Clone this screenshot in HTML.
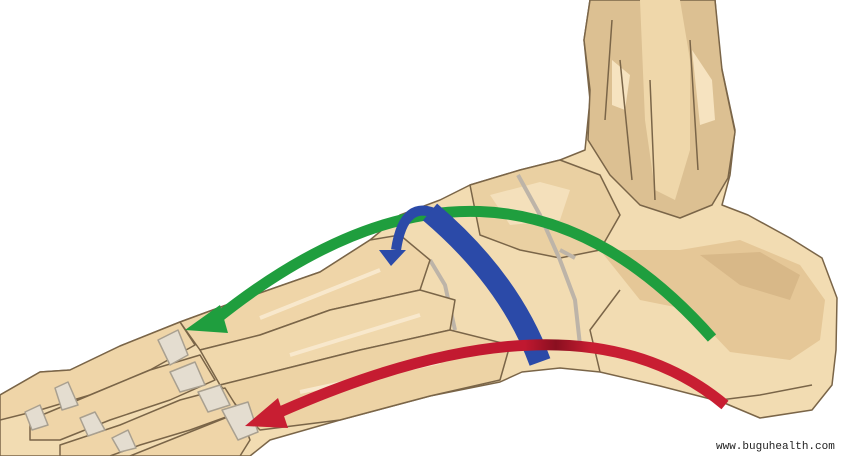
<!DOCTYPE html>
<html><head><meta charset="utf-8"><style>
html,body{margin:0;padding:0;background:#fff;width:851px;height:456px;overflow:hidden}
svg{display:block}
.w{position:absolute;left:716px;top:441px;font:11px "Liberation Mono",monospace;color:#222}
</style></head><body>
<svg width="851" height="456" viewBox="0 0 851 456" xmlns="http://www.w3.org/2000/svg">
<defs>
<linearGradient id="rg" x1="0" x2="1" y1="0" y2="0">
<stop offset="0" stop-color="#c81e32"/><stop offset="0.55" stop-color="#c01830"/><stop offset="0.62" stop-color="#8a0f20"/><stop offset="0.7" stop-color="#c81e32"/><stop offset="1" stop-color="#c81e32"/>
</linearGradient>
</defs>
<g stroke="#7a6548" stroke-width="1.5" stroke-linejoin="round">
<path fill="#f2dcb2" d="M590,0 L715,0 L720,60 L735,130 L730,175 L722,205 L748,215 L790,238 L822,258 L837,298 L836,350 L832,385 L812,410 L760,418 L722,402 L660,386 L600,372 L560,368 L522,372 L500,382 L430,396 L340,420 L270,440 L250,456 L0,456 L0,395 L40,372 L70,370 L120,346 L180,322 L240,300 L320,272 L370,240 L400,215 L440,200 L470,185 L520,170 L560,160 L585,150 L590,100 L584,40 Z"/>
<path fill="#dcc092" d="M590,0 L715,0 L722,70 L735,132 L728,178 L712,205 L680,218 L640,205 L610,175 L588,140 L590,90 L584,40 Z"/>
<path fill="#efd7aa" stroke="none" d="M640,0 L680,0 L690,60 L690,150 L675,200 L655,190 L645,120 Z"/>
<path fill="#f6e3c0" stroke="none" d="M612,60 L630,75 L625,110 L612,105 Z M692,50 L712,80 L715,120 L700,125 Z"/>
<path fill="none" d="M612,20 L605,120 M620,60 L632,180 M650,80 L655,200 M690,40 L698,170"/>
<path fill="#ead0a2" d="M470,185 L520,170 L560,160 L600,175 L620,215 L600,250 L560,258 L520,250 L480,235 Z"/>
<path fill="#f4e0bb" stroke="none" d="M490,195 L540,182 L570,190 L560,220 L510,225 Z"/>
<path fill="#e5c797" stroke="none" d="M600,250 L680,250 L740,240 L800,265 L825,300 L820,340 L790,360 L730,352 L690,310 L640,300 Z"/>
<path fill="#d8b888" stroke="none" d="M700,255 L760,252 L800,275 L790,300 L740,285 Z"/>
<path fill="none" d="M720,400 L760,395 L812,385 M600,372 L590,330 L620,290"/>
<path fill="none" stroke="#bdb4a8" stroke-width="4" d="M518,175 L540,215 L560,260 L575,300 L580,345 M560,250 L575,258 M430,260 L445,285 L455,330 M460,230 L480,250"/>
<path fill="#efd5a8" d="M180,322 L240,300 L320,272 L370,240 L400,235 L430,260 L420,290 L330,310 L260,335 L200,350 Z"/>
<path fill="#f0d8ac" d="M200,350 L260,335 L330,310 L420,290 L455,300 L450,330 L360,350 L280,370 L220,385 Z"/>
<path fill="#edd3a5" d="M220,385 L280,370 L360,350 L450,330 L510,345 L500,380 L430,396 L340,420 L260,430 L240,410 Z"/>
<path fill="none" stroke="#f8e8cc" stroke-width="4" d="M260,318 L380,270 M290,355 L420,315 M300,392 L440,362"/>
<g fill="#efd5a8">
<path d="M0,395 L40,372 L70,370 L120,346 L180,322 L195,345 L150,370 L90,395 L40,410 L0,420 Z"/>
<path d="M30,420 L90,395 L150,370 L200,355 L215,380 L170,400 L110,420 L60,440 L30,440 Z"/>
<path d="M60,445 L120,425 L180,400 L225,388 L240,412 L190,430 L140,445 L110,456 L60,456 Z"/>
<path d="M130,456 L190,432 L240,412 L250,440 L240,456 Z"/>
</g>
<g fill="#e4ddd0" stroke="#a9a090">
<path d="M158,340 L178,330 L188,355 L170,365 Z"/>
<path d="M170,372 L195,362 L205,385 L180,392 Z"/>
<path d="M198,392 L220,385 L230,405 L208,412 Z"/>
<path d="M222,410 L248,402 L258,432 L238,440 Z"/>
<path d="M55,388 L68,382 L78,405 L62,410 Z"/>
<path d="M80,418 L95,412 L105,430 L88,436 Z"/>
<path d="M112,438 L128,430 L136,448 L120,452 Z"/>
<path d="M25,412 L40,405 L48,425 L32,430 Z"/>
</g>
</g>
<!-- green arrow -->
<path d="M712,338 Q496,94 215,320" fill="none" stroke="#1f9e3e" stroke-width="11"/>
<polygon points="185,330 220,305 228,333" fill="#1f9e3e"/>
<!-- blue curl -->
<path d="M440,216 Q404,196 396,250" fill="none" stroke="#2b4aa8" stroke-width="10"/>
<polygon points="379,250 406,250 391,266" fill="#2b4aa8"/>
<!-- blue main band -->
<path d="M540,362 Q510,280 430,212" fill="none" stroke="#2b4aa8" stroke-width="22"/>
<!-- red arrow -->
<path d="M725,405 Q577,281 280,412" fill="none" stroke="url(#rg)" stroke-width="11"/>
<polygon points="245,426 278,398 288,428" fill="#c81e32"/>
</svg>
<div class="w">www.buguhealth.com</div>
</body></html>
